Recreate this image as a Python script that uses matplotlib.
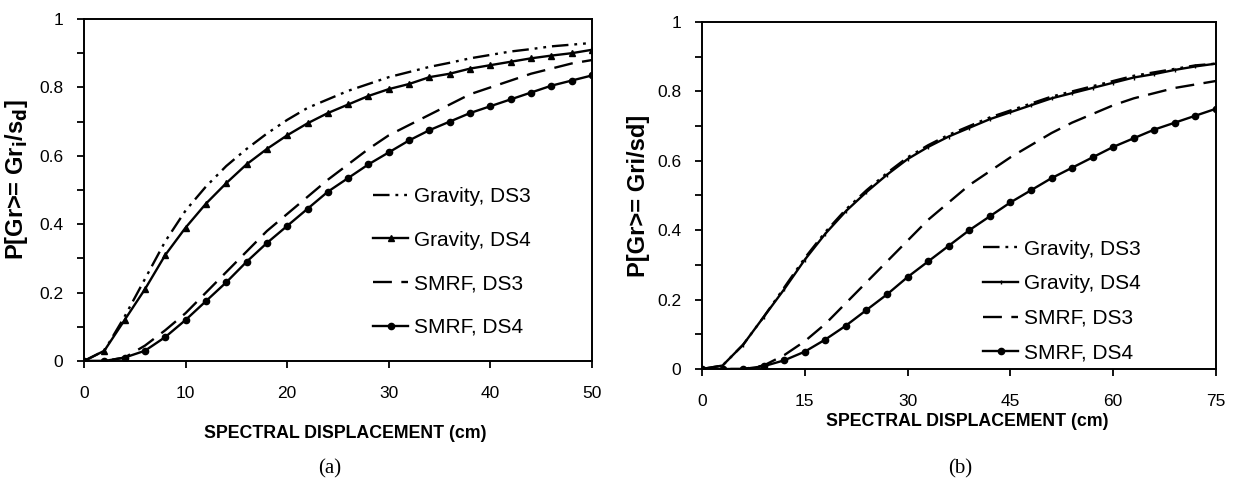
import matplotlib
matplotlib.use("Agg")
import matplotlib.pyplot as plt

# ---------------- data: panel (a) ----------------
sd_a = [0, 2, 4, 6, 8, 10, 12, 14, 16, 18, 20, 22, 24, 26, 28, 30, 32, 34, 36, 38, 40, 42, 44, 46, 48, 50]
grav_ds3_a = [0, 0.03, 0.13, 0.24, 0.35, 0.44, 0.51, 0.57, 0.62, 0.665, 0.705, 0.74, 0.765, 0.79, 0.81,
              0.83, 0.845, 0.86, 0.872, 0.885, 0.895, 0.905, 0.912, 0.92, 0.925, 0.93]
grav_ds4_a = [0, 0.03, 0.12, 0.21, 0.31, 0.39, 0.46, 0.52, 0.575, 0.62, 0.66, 0.695, 0.725, 0.75, 0.775,
              0.795, 0.81, 0.83, 0.84, 0.855, 0.865, 0.875, 0.885, 0.893, 0.9, 0.91]
smrf_ds3_a = [0, 0, 0.01, 0.045, 0.09, 0.14, 0.2, 0.26, 0.32, 0.38, 0.43, 0.48, 0.53, 0.575, 0.62,
              0.66, 0.69, 0.72, 0.75, 0.78, 0.80, 0.82, 0.84, 0.855, 0.87, 0.88]
smrf_ds4_a = [0, 0, 0.01, 0.03, 0.07, 0.12, 0.175, 0.23, 0.29, 0.345, 0.395, 0.445, 0.495, 0.535, 0.575,
              0.61, 0.645, 0.675, 0.70, 0.725, 0.745, 0.765, 0.785, 0.805, 0.82, 0.835]

# ---------------- data: panel (b) ----------------
sd_b = [0, 3, 6, 9, 12, 15, 18, 21, 24, 27, 30, 33, 36, 39, 42, 45, 48, 51, 54, 57, 60, 63, 66, 69, 72, 75]
grav_ds3_b = [0, 0.01, 0.07, 0.15, 0.235, 0.32, 0.395, 0.46, 0.515, 0.565, 0.61, 0.645, 0.675, 0.70,
              0.725, 0.745, 0.765, 0.785, 0.80, 0.815, 0.83, 0.845, 0.855, 0.865, 0.875, 0.88]
grav_ds4_b = [0, 0.01, 0.07, 0.15, 0.23, 0.315, 0.39, 0.455, 0.51, 0.56, 0.605, 0.64, 0.67, 0.695,
              0.72, 0.74, 0.76, 0.78, 0.795, 0.81, 0.825, 0.84, 0.85, 0.862, 0.872, 0.88]
smrf_ds3_b = [0, 0, 0, 0.01, 0.04, 0.08, 0.13, 0.19, 0.25, 0.31, 0.37, 0.43, 0.48, 0.53, 0.57,
              0.61, 0.645, 0.68, 0.71, 0.735, 0.76, 0.78, 0.795, 0.81, 0.82, 0.83]
smrf_ds4_b = [0, 0, 0, 0.008, 0.025, 0.05, 0.085, 0.125, 0.17, 0.215, 0.265, 0.31, 0.355, 0.40, 0.44,
              0.48, 0.515, 0.55, 0.58, 0.61, 0.64, 0.665, 0.69, 0.71, 0.73, 0.75]

labels = ["Gravity, DS3", "Gravity, DS4", "SMRF, DS3", "SMRF, DS4"]
xticks_a = [0, 10, 20, 30, 40, 50]
xticks_b = [0, 15, 30, 45, 60, 75]
yticks = [0, 0.2, 0.4, 0.6, 0.8, 1]
ytick_labels = ["0", "0.2", "0.4", "0.6", "0.8", "1"]

plt.rcParams["font.family"] = ["Liberation Sans", "DejaVu Sans"]

W, H = 1238, 490
fig = plt.figure(figsize=(W / 100, H / 100), dpi=100)
ax_a = fig.add_axes([84 / W, 1 - 361 / H, 508 / W, 342 / H])
ax_b = fig.add_axes([702 / W, 1 - 369 / H, 514 / W, 347 / H])

dashdotdot = (0, (7, 2.5, 1.2, 2.5, 1.2, 2.5))
dashed = (0, (8, 4))
lw = 1.7


def style(ax, xmax, xticks, ylabel, ylab_xy, xlabel_xy):
    ax.set_xlim(0, xmax)
    ax.set_ylim(0, 1)
    ax.set_xticks(xticks)
    ax.set_xticklabels([str(t) for t in xticks])
    ax.set_yticks(yticks)
    ax.set_yticklabels(ytick_labels)
    ax.set_yticks([0.1, 0.3, 0.5, 0.7, 0.9], minor=True)
    ax.tick_params(axis="both", which="both", direction="out", length=5, width=1.3,
                   labelsize=12.5, color="black")
    ax.tick_params(axis="x", pad=13)
    ax.tick_params(axis="y", pad=10)
    for s in ax.spines.values():
        s.set_linewidth(1.4)
        s.set_color("black")
    fig.text(xlabel_xy[0] / W, 1 - xlabel_xy[1] / H, "SPECTRAL DISPLACEMENT (cm)", ha="center",
             va="center", fontsize=12.8, fontweight="bold")
    ax.set_ylabel(ylabel, fontsize=17, fontweight="bold")
    ax.yaxis.set_label_coords(*ylab_xy)


def add_legend(ax, x_left, y_center, spacing):
    ax.legend(loc="center left", bbox_to_anchor=(x_left / W, 1 - y_center / H),
              bbox_transform=fig.transFigure, frameon=False, fontsize=15,
              handlelength=1.7, handletextpad=0.25, labelspacing=spacing,
              borderpad=0, borderaxespad=0)


# panel (a)
ax_a.plot(sd_a, grav_ds3_a, color="black", lw=lw, linestyle=dashdotdot, label=labels[0])
ax_a.plot(sd_a, grav_ds4_a, color="black", lw=lw, marker="^", markersize=4, label=labels[1])
ax_a.plot(sd_a, smrf_ds3_a, color="black", lw=lw, linestyle=dashed, label=labels[2])
ax_a.plot(sd_a, smrf_ds4_a, color="black", lw=lw, marker="o", markersize=4.5, label=labels[3])
style(ax_a, 50, xticks_a, r"P[Gr>= Gr$_\mathbf{i}$/s$_\mathbf{d}$]",
      ((30 - 84) / 508, 0.53), (345, 434))
add_legend(ax_a, 373, 262, 1.18)

# panel (b)
ax_b.plot(sd_b, grav_ds3_b, color="black", lw=lw, linestyle=dashdotdot, label=labels[0])
ax_b.plot(sd_b, grav_ds4_b, color="black", lw=lw, marker="|", markersize=3, label=labels[1])
ax_b.plot(sd_b, smrf_ds3_b, color="black", lw=lw, linestyle=dashed, label=labels[2])
ax_b.plot(sd_b, smrf_ds4_b, color="black", lw=lw, marker="o", markersize=4.5, label=labels[3])
style(ax_b, 75, xticks_b, "P[Gr>= Gri/sd]",
      ((650 - 702) / 514, 0.50), (967, 421))
add_legend(ax_b, 983, 301, 0.75)

fig.text(330 / W, 1 - 469 / H, "(a)", ha="center", va="center", fontsize=15,
         family=["Liberation Serif", "DejaVu Serif"])
fig.text(960 / W, 1 - 469 / H, "(b)", ha="center", va="center", fontsize=15,
         family=["Liberation Serif", "DejaVu Serif"])

fig.savefig("out.png", dpi=100)
